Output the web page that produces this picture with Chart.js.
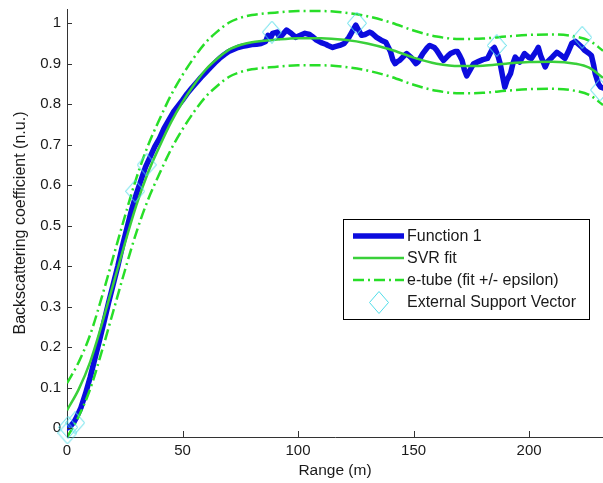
<!DOCTYPE html>
<html><head><meta charset="utf-8">
<script src="https://cdn.jsdelivr.net/npm/chart.js@4"></script>
<style>html,body{margin:0;padding:0;background:#fff}#wrap{width:603px;height:483px;position:relative}</style>
</head><body><div id="wrap"><canvas id="c" width="603" height="483"></canvas></div>
<script>
// ---- data ----
const rangeM = [
  0,1,2,3,4,6,8,10,12,14,
  16,18,20,22,24,26,28,30,32,34,
  36,38,40,42,44,46,48,50,52,54,
  56,58,60,62,64,66,68,70,72,74,
  76,78,80,82,84,86,87,88,89,91,
  92,93,95,97,99,101,103,105,106,108,
  110,112,113,115,116,118,120,122,123,125,
  126,127.5,129,131,132,134,136,138,140,141,
  142,143,144,146,147,149,151,152,154,156,
  157,159,160,162,163,165,166,168,169,170,
  171,172,173,174,176,178,180,182,184,185,
  186.5,187.5,188.5,189.5,190.5,192,193,194,196,198,
  200,201,203,204,205,207,208,210,212,214,
  215.5,217,218.5,220,221,223,224,226,227,228,
  228.6,230,231,232
];
const function1 = [
  0.000,0.003,0.008,0.015,0.025,0.050,0.085,0.125,0.170,0.215,
  0.262,0.310,0.355,0.400,0.450,0.495,0.540,0.578,0.612,0.645,
  0.670,0.695,0.715,0.740,0.760,0.780,0.795,0.810,0.826,0.840,
  0.853,0.866,0.878,0.890,0.902,0.913,0.922,0.930,0.935,0.940,
  0.943,0.945,0.947,0.948,0.950,0.955,0.970,0.962,0.975,0.978,
  0.965,0.970,0.983,0.975,0.965,0.970,0.975,0.972,0.968,0.958,
  0.952,0.948,0.945,0.940,0.942,0.945,0.950,0.965,0.975,0.995,
  0.985,0.970,0.972,0.978,0.975,0.965,0.958,0.953,0.930,0.910,
  0.900,0.905,0.908,0.920,0.925,0.915,0.900,0.905,0.925,0.940,
  0.945,0.940,0.933,0.915,0.908,0.920,0.925,0.930,0.930,0.920,
  0.908,0.885,0.870,0.880,0.900,0.905,0.910,0.913,0.935,0.940,
  0.920,0.900,0.870,0.842,0.860,0.876,0.900,0.916,0.904,0.925,
  0.915,0.913,0.930,0.940,0.920,0.892,0.905,0.916,0.928,0.920,
  0.913,0.930,0.950,0.955,0.950,0.940,0.933,0.925,0.920,0.895,
  0.876,0.850,0.842,0.840
];
const fitX = [0,5,10,15,20,25,30,35,40,45,50,55,60,65,70,75,80,90,100,110,120,130,140,150,160,170,180,190,200,210,220,226,232];
const fitY = [0.044,0.095,0.163,0.255,0.355,0.455,0.55,0.63,0.695,0.755,0.805,0.848,0.885,0.912,0.934,0.946,0.953,0.959,0.963,0.963,0.959,0.95,0.935,0.915,0.9,0.894,0.895,0.9,0.904,0.905,0.9,0.89,0.865];
const EPSILON = 0.067;
const svX = [0.2, 0.5, 3.5, 29.5, 34.5, 88.7, 125.5, 186, 223, 230.7];
const svY = [-0.012, 0.002, 0.013, 0.585, 0.65, 0.978, 1.0, 0.945, 0.965, 0.835];
const xTicks = [0, 50, 100, 150, 200];
const yTicks = [0, 0.1, 0.2, 0.3, 0.4, 0.5, 0.6, 0.7, 0.8, 0.9, 1];
const seriesLabels = ['Function 1', 'SVR fit', 'e-tube (fit +/- epsilon)', 'External Support Vector'];

// ---- styling ----
const BLUE = 'rgb(12,12,222)';
const GREEN = 'rgb(58,208,58)';
const TUBE = 'rgb(40,222,40)';
const CYAN = 'rgb(80,220,232)';
const AXIS = '#333';
const TXT = '#1a1a1a';
const FONT = '"Liberation Sans", Arial, Helvetica, sans-serif';
const TUBE_DASH = [11, 4, 2, 4];

// diamond marker
const diamond = document.createElement('canvas');
diamond.width = 20; diamond.height = 23;
(function(){
  const g = diamond.getContext('2d');
  g.strokeStyle = CYAN; g.lineWidth = 1;
  g.beginPath();
  g.moveTo(10, 0.5); g.lineTo(19.5, 11.5); g.lineTo(10, 22.5); g.lineTo(0.5, 11.5); g.closePath();
  g.stroke();
})();

const pts = (xs, ys) => xs.map((x, i) => ({x, y: ys[i]}));
const upper = fitY.map(v => +(v + EPSILON).toFixed(4));
const lower = fitY.map(v => +(v - EPSILON).toFixed(4));

const inwardTicks = {
  id: 'inwardTicks',
  afterDatasetsDraw(chart) {
    const {ctx, chartArea: a, scales: {x, y}} = chart;
    ctx.save();
    ctx.strokeStyle = AXIS; ctx.lineWidth = 1;
    ctx.beginPath();
    x.ticks.forEach(t => {
      const px = Math.round(x.getPixelForValue(t.value)) + 0.5;
      ctx.moveTo(px, a.bottom); ctx.lineTo(px, a.bottom - 6);
    });
    y.ticks.forEach(t => {
      const py = Math.round(y.getPixelForValue(t.value)) + 0.5;
      ctx.moveTo(a.left, py); ctx.lineTo(a.left + 5, py);
    });
    ctx.stroke();
    ctx.restore();
  }
};

const boxLegend = {
  id: 'boxLegend',
  afterDraw(chart) {
    const ctx = chart.ctx;
    const bx = 343.5, by = 219.5, bw = 246, bh = 100;
    ctx.save();
    ctx.fillStyle = '#fff';
    ctx.fillRect(bx, by, bw, bh);
    ctx.strokeStyle = '#000'; ctx.lineWidth = 1;
    ctx.strokeRect(bx, by, bw, bh);
    const rows = [236, 258, 280, 302];
    const x1 = 353, x2 = 404, tx = 407;
    const ds = chart.data.datasets;
    const items = [ds[0], ds[1], ds[2], ds[4]];
    items.forEach((d, i) => {
      const yy = rows[i];
      if (i < 3) {
        ctx.beginPath();
        ctx.strokeStyle = d.borderColor;
        ctx.lineWidth = d.borderWidth;
        ctx.setLineDash(d.borderDash || []);
        ctx.moveTo(x1, yy); ctx.lineTo(x2, yy);
        ctx.stroke();
        ctx.setLineDash([]);
      } else {
        ctx.drawImage(diamond, Math.round((x1 + x2) / 2 - diamond.width / 2), Math.round(yy - diamond.height / 2));
      }
      ctx.fillStyle = TXT;
      ctx.font = '16px ' + FONT;
      ctx.textBaseline = 'middle';
      ctx.textAlign = 'left';
      ctx.fillText(seriesLabels[i], tx, yy + 1);
    });
    ctx.restore();
  }
};

new Chart(document.getElementById('c'), {
  type: 'line',
  data: {
    datasets: [
      {label: seriesLabels[0], data: pts(rangeM, function1), borderColor: BLUE, borderWidth: 5.5,
       pointRadius: 0, tension: 0, borderJoinStyle: 'round', borderCapStyle: 'round', order: 4},
      {label: seriesLabels[1], data: pts(fitX, fitY), borderColor: GREEN, borderWidth: 2.5,
       pointRadius: 0, tension: 0.4, cubicInterpolationMode: 'monotone', order: 3},
      {label: seriesLabels[2], data: pts(fitX, upper), borderColor: TUBE, borderWidth: 2.5, borderDash: TUBE_DASH,
       pointRadius: 0, cubicInterpolationMode: 'monotone', order: 2},
      {label: seriesLabels[2] + ' lower', data: pts(fitX, lower), borderColor: TUBE, borderWidth: 2.5, borderDash: TUBE_DASH,
       pointRadius: 0, cubicInterpolationMode: 'monotone', order: 2},
      {label: seriesLabels[3], data: pts(svX, svY), showLine: false, pointStyle: diamond, pointRadius: 10,
       borderColor: CYAN, backgroundColor: 'transparent', clip: false, order: 1}
    ]
  },
  options: {
    responsive: false,
    animation: false,
    devicePixelRatio: 1,
    layout: {autoPadding: false, padding: {top: 9, right: 0, left: 0, bottom: 0}},
    plugins: {legend: {display: false}, tooltip: {enabled: false}},
    scales: {
      x: {
        type: 'linear', min: 0, max: 232,
        afterFit: s => { s.height = 46; s.paddingLeft = 0; s.paddingRight = 0; s.paddingTop = 0; s.paddingBottom = 0; },
        afterBuildTicks: s => { s.ticks = xTicks.map(v => ({value: v})); },
        grid: {display: false, drawTicks: false},
        border: {display: true, color: AXIS, width: 1},
        ticks: {color: TXT, font: {family: FONT, size: 15}, padding: 5, maxRotation: 0,
                callback: v => String(v)},
        title: {display: true, text: 'Range (m)', color: TXT, font: {family: FONT, size: 15.5},
                padding: {top: 0, bottom: 3}}
      },
      y: {
        type: 'linear', min: -0.022, max: 1.035,
        afterFit: s => { s.width = 67; s.paddingLeft = 0; s.paddingRight = 0; s.paddingTop = 0; s.paddingBottom = 0; },
        afterBuildTicks: s => { s.ticks = yTicks.map(v => ({value: v})); },
        grid: {display: false, drawTicks: false},
        border: {display: true, color: AXIS, width: 1},
        ticks: {color: TXT, font: {family: FONT, size: 15}, padding: 6,
                callback: v => String(+v.toFixed(1))},
        title: {display: true, text: 'Backscattering coefficient (n.u.)', color: TXT,
                font: {family: FONT, size: 16}, padding: {top: 11, bottom: 0}}
      }
    }
  },
  plugins: [inwardTicks, boxLegend]
});
</script>
</body></html>
